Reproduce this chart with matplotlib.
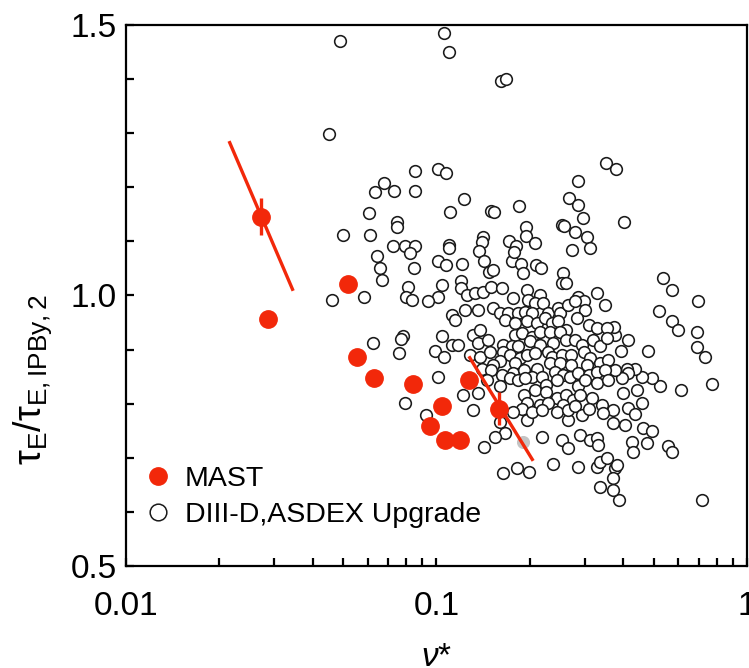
import numpy as np
import matplotlib
matplotlib.use('Agg')
import matplotlib.pyplot as plt
from matplotlib.lines import Line2D
from matplotlib.ticker import LogLocator, MultipleLocator, NullFormatter

plt.rcParams['font.family'] = ['Liberation Sans', 'DejaVu Sans']
plt.rcParams['mathtext.fontset'] = 'custom'
plt.rcParams['mathtext.rm'] = 'Liberation Sans'
plt.rcParams['mathtext.it'] = 'Liberation Sans:italic'

# MAST points (nu*, tau_E / tau_E,IPB98y2)
mast_nu = [0.0272, 0.0286, 0.052, 0.0556, 0.0629, 0.0842, 0.1275, 0.1039, 0.0953, 0.1064, 0.119, 0.159]
mast_tau = [1.146, 0.957, 1.021, 0.886, 0.847, 0.836, 0.844, 0.796, 0.759, 0.733, 0.733, 0.791]
mast_err = [0.035, 0, 0, 0, 0, 0, 0, 0, 0, 0, 0, 0.03]

# MAST scans (fitted trend lines)
fit1_nu = [0.0216, 0.0344]
fit1_tau = [1.2825, 1.0115]
fit2_nu = [0.128, 0.2035]
fit2_tau = [0.885, 0.697]

# DIII-D / ASDEX Upgrade database, by region of the plot
upper_pts = [(0.049, 1.47), (0.106, 1.485), (0.110, 1.45), (0.161, 1.397), (0.168, 1.40),
             (0.045, 1.298), (0.085, 1.23), (0.101, 1.234), (0.107, 1.226), (0.0678, 1.208),
             (0.0635, 1.191), (0.0728, 1.194), (0.0853, 1.194), (0.1223, 1.178), (0.352, 1.245),
             (0.379, 1.233), (0.2855, 1.212), (0.268, 1.180)]

left_pts = [(0.0605, 1.153), (0.1108, 1.154), (0.150, 1.157), (0.153, 1.155), (0.184, 1.165),
            (0.0748, 1.136), (0.0748, 1.127), (0.050, 1.111), (0.0611, 1.111), (0.0726, 1.091),
            (0.079, 1.091), (0.0853, 1.091), (0.0822, 1.079), (0.1094, 1.093), (0.1094, 1.087),
            (0.141, 1.108), (0.140, 1.099), (0.1367, 1.082), (0.171, 1.100), (0.181, 1.091),
            (0.194, 1.126), (0.194, 1.110), (0.0643, 1.073), (0.0656, 1.051), (0.0667, 1.029),
            (0.0844, 1.050), (0.101, 1.064), (0.1073, 1.056), (0.1208, 1.059), (0.1426, 1.063),
            (0.148, 1.043), (0.1517, 1.048), (0.1754, 1.064), (0.187, 1.059), (0.1905, 1.041),
            (0.081, 1.016), (0.0796, 0.998), (0.0832, 0.991), (0.1039, 1.020), (0.101, 0.997),
            (0.0941, 0.990), (0.0462, 0.992), (0.0584, 0.997), (0.120, 1.026), (0.1196, 1.013),
            (0.112, 0.964), (0.115, 0.954), (0.1039, 0.926), (0.0781, 0.926), (0.077, 0.920),
            (0.0623, 0.913), (0.0759, 0.893), (0.112, 0.908), (0.1173, 0.909), (0.0989, 0.897),
            (0.1055, 0.887), (0.1014, 0.850), (0.0793, 0.8007), (0.0925, 0.779)]

upright_pts = [(0.2856, 1.167), (0.2965, 1.143), (0.4017, 1.135), (0.253, 1.131), (0.257, 1.129),
               (0.2786, 1.118), (0.3045, 1.108), (0.312, 1.088), (0.273, 1.085), (0.2075, 1.097),
               (0.1777, 1.081), (0.2092, 1.056), (0.2171, 1.050), (0.2562, 1.041)]

right_pts = [(0.538, 1.032), (0.572, 1.011), (0.694, 0.989), (0.519, 0.972), (0.572, 0.952),
             (0.598, 0.936), (0.690, 0.932), (0.690, 0.904), (0.734, 0.886), (0.769, 0.837),
             (0.611, 0.825), (0.481, 0.897), (0.415, 0.917), (0.525, 0.833), (0.493, 0.848),
             (0.458, 0.850), (0.436, 0.864), (0.410, 0.865), (0.415, 0.856), (0.3945, 0.847),
             (0.441, 0.825), (0.400, 0.819), (0.4575, 0.802), (0.415, 0.792), (0.436, 0.781),
             (0.405, 0.761), (0.462, 0.755), (0.493, 0.750), (0.425, 0.730), (0.4305, 0.710),
             (0.475, 0.728), (0.558, 0.722), (0.572, 0.711), (0.714, 0.622), (0.388, 0.622),
             (0.392, 0.897), (0.3767, 0.927), (0.372, 0.942), (0.3757, 0.862), (0.371, 0.788),
             (0.371, 0.764)]

lower_pts = [(0.1662, 0.745), (0.2182, 0.739), (0.253, 0.733), (0.2658, 0.7175), (0.2897, 0.742),
             (0.312, 0.733), (0.328, 0.736), (0.332, 0.724), (0.2377, 0.6885), (0.2862, 0.6824),
             (0.328, 0.6836), (0.3363, 0.6928), (0.3532, 0.699), (0.376, 0.681), (0.381, 0.687),
             (0.371, 0.662), (0.3363, 0.6455), (0.3693, 0.6405), (0.1642, 0.6713), (0.1813, 0.6806),
             (0.199, 0.6744), (0.1426, 0.7194), (0.1543, 0.738), (0.266, 0.770)]

core_pts = [(0.125, 1.001), (0.133, 1.004), (0.1415, 1.007), (0.150, 1.016), (0.162, 1.013),
            (0.177, 0.995), (0.195, 1.010), (0.197, 0.992), (0.2155, 1.001), (0.2076, 0.986),
            (0.221, 0.986), (0.253, 1.023), (0.262, 1.023), (0.286, 0.998), (0.298, 0.989),
            (0.328, 1.004), (0.349, 0.982), (0.1235, 0.973), (0.136, 0.973), (0.152, 0.976),
            (0.160, 0.967), (0.170, 0.967), (0.183, 0.967), (0.193, 0.970), (0.203, 0.967),
            (0.229, 0.967), (0.247, 0.976), (0.250, 0.967), (0.266, 0.982), (0.279, 0.989),
            (0.301, 0.973), (0.166, 0.955), (0.179, 0.949), (0.1955, 0.952), (0.210, 0.949),
            (0.2236, 0.958), (0.235, 0.949), (0.247, 0.952), (0.262, 0.936), (0.283, 0.958),
            (0.309, 0.946), (0.328, 0.939), (0.353, 0.939), (0.179, 0.927), (0.188, 0.930),
            (0.203, 0.924), (0.2155, 0.933), (0.232, 0.933), (0.250, 0.933), (0.131, 0.927),
            (0.138, 0.936), (0.136, 0.912), (0.147, 0.918), (0.164, 0.909), (0.175, 0.906),
            (0.183, 0.906), (0.200, 0.915), (0.2155, 0.909), (0.2375, 0.912), (0.262, 0.918),
            (0.279, 0.918), (0.294, 0.909), (0.320, 0.918), (0.336, 0.906), (0.353, 0.921),
            (0.128, 0.890), (0.138, 0.887), (0.1487, 0.896), (0.164, 0.896), (0.172, 0.890),
            (0.186, 0.884), (0.195, 0.890), (0.2076, 0.893), (0.229, 0.896), (0.235, 0.887),
            (0.253, 0.890), (0.272, 0.890), (0.298, 0.896), (0.312, 0.884), (0.336, 0.875),
            (0.358, 0.881), (0.160, 0.878), (0.152, 0.872), (0.179, 0.875), (0.210, 0.865),
            (0.232, 0.875), (0.250, 0.875), (0.272, 0.872), (0.305, 0.872), (0.140, 0.865),
            (0.150, 0.862), (0.162, 0.853), (0.177, 0.856), (0.191, 0.862), (0.203, 0.850),
            (0.218, 0.850), (0.241, 0.859), (0.256, 0.853), (0.269, 0.850), (0.286, 0.856),
            (0.309, 0.853), (0.328, 0.859), (0.349, 0.862), (0.146, 0.844), (0.160, 0.832),
            (0.1724, 0.847), (0.183, 0.844), (0.193, 0.847), (0.226, 0.835), (0.244, 0.844),
            (0.286, 0.832), (0.301, 0.844), (0.328, 0.838), (0.358, 0.844), (0.122, 0.816),
            (0.136, 0.819), (0.191, 0.816), (0.2076, 0.825), (0.226, 0.822), (0.244, 0.810),
            (0.262, 0.816), (0.276, 0.807), (0.290, 0.816), (0.316, 0.810), (0.1955, 0.801),
            (0.2155, 0.798), (0.229, 0.801), (0.256, 0.798), (0.131, 0.788), (0.188, 0.791),
            (0.1955, 0.770), (0.203, 0.785), (0.218, 0.788), (0.244, 0.785), (0.266, 0.788),
            (0.279, 0.795), (0.294, 0.779), (0.309, 0.791), (0.340, 0.798), (0.344, 0.782),
            (0.160, 0.767), (0.177, 0.785)]

grey_nu = [0.1896]
grey_tau = [0.730]

RED = '#f2280a'

other = np.array(upper_pts + left_pts + upright_pts + right_pts + lower_pts + core_pts)

fig = plt.figure(figsize=(7.49, 6.68), dpi=100)
ax = fig.add_axes([0.168, 0.1527, 0.8294, 0.8099])

ax.plot(other[:, 0], other[:, 1], 'o', ls='none', ms=8.4, mfc='white', mec='#1a1a1a', mew=1.15, zorder=2)
ax.plot(grey_nu, grey_tau, 'o', ls='none', ms=8.4, mfc='#c4c4c4', mec='#c4c4c4', zorder=2)

ax.plot(fit1_nu, fit1_tau, color=RED, lw=2.4, zorder=3)
ax.plot(fit2_nu, fit2_tau, color=RED, lw=2.4, zorder=3)
ax.errorbar(mast_nu, mast_tau, yerr=mast_err, fmt='o', ms=12.5, color=RED,
            elinewidth=2.4, capsize=0, zorder=4)

ax.set_xscale('log')
ax.set_xlim(0.01, 1)
ax.set_ylim(0.5, 1.5)
ax.set_xticks([0.01, 0.1, 1])
ax.set_xticklabels(['0.01', '0.1', '1'])
ax.xaxis.set_minor_locator(LogLocator(base=10, subs=np.arange(2, 10)))
ax.xaxis.set_minor_formatter(NullFormatter())
ax.set_yticks([0.5, 1.0, 1.5])
ax.set_yticklabels(['0.5', '1.0', '1.5'])
ax.yaxis.set_minor_locator(MultipleLocator(0.1))

for s in ax.spines.values():
    s.set_linewidth(1.6)
ax.tick_params(which='both', direction='in', length=6, width=1.6, top=False, right=False)
ax.tick_params(axis='x', which='major', pad=18, labelsize=24)
ax.tick_params(axis='y', which='major', pad=6.5, labelsize=24)

ax.set_ylabel('τ$_{\\mathrm{E}}$/τ$_{\\mathrm{E,IPBy,2}}$', fontsize=27)
ax.yaxis.set_label_coords(-0.115, 0.345)
ax.set_xlabel(r'$\nu$*', fontsize=24)
ax.xaxis.set_label_coords(0.5, -0.14)

handles = [Line2D([], [], marker='o', ls='none', ms=12.5, color=RED),
           Line2D([], [], marker='o', ls='none', ms=12, mfc='white', mec='#1a1a1a', mew=1.1)]
ax.legend(handles, ['MAST', 'DIII-D,ASDEX Upgrade'], loc='lower left', bbox_to_anchor=(0.035, 0.07),
          frameon=False, fontsize=20.5, handlelength=0.7, handletextpad=0.6,
          labelspacing=0.35, borderpad=0, borderaxespad=0)

fig.savefig('out.png', dpi=100)
